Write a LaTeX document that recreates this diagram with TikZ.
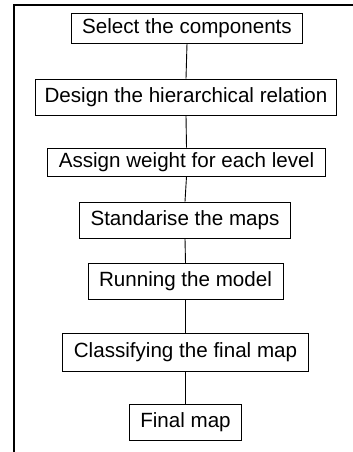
\documentclass[tikz,border=0pt]{standalone}
\usepackage{fontspec}
\setmainfont{Liberation Sans}
\usetikzlibrary{calc}

\tikzset{
  stepbox/.style={draw, line width=0.9pt, inner xsep=11pt, inner ysep=2pt,
    minimum height=36pt, font=\fontsize{20.6pt}{24pt}\selectfont},
  link/.style={line width=0.9pt}
}

\begin{document}
\begin{tikzpicture}[x=1pt,y=1pt]
      \useasboundingbox (0,0) rectangle (353,-452);

      % Frame
      \draw[line width=2pt] (14,-452) -- (14,-5.5) -- (353,-5.5);

      % Steps
      \node[stepbox, minimum height=30pt] (select) at (187,-28) {Select the components};
      \node[stepbox, inner xsep=9.5pt] (design) at (186,-97) {Design the hierarchical relation};
      \node[stepbox, minimum height=28pt] (assign) at (186.5,-162) {Assign weight for each level};
      \node[stepbox] (standard) at (185,-220) {Standarise the maps};
      \node[stepbox] (running) at (185.5,-281.5) {Running the model};
      \node[stepbox, minimum height=38pt] (classify) at (185.5,-352) {Classifying the final map};
      \node[stepbox] (final) at (185.5,-422.5) {Final map};

      % Links
      \foreach \a/\b in {select/design,design/assign,assign/standard,standard/running,running/classify,classify/final}
      {
        \draw[link] (\a.south) -- (\b.north);
      }
  \end{tikzpicture}
\end{document}
